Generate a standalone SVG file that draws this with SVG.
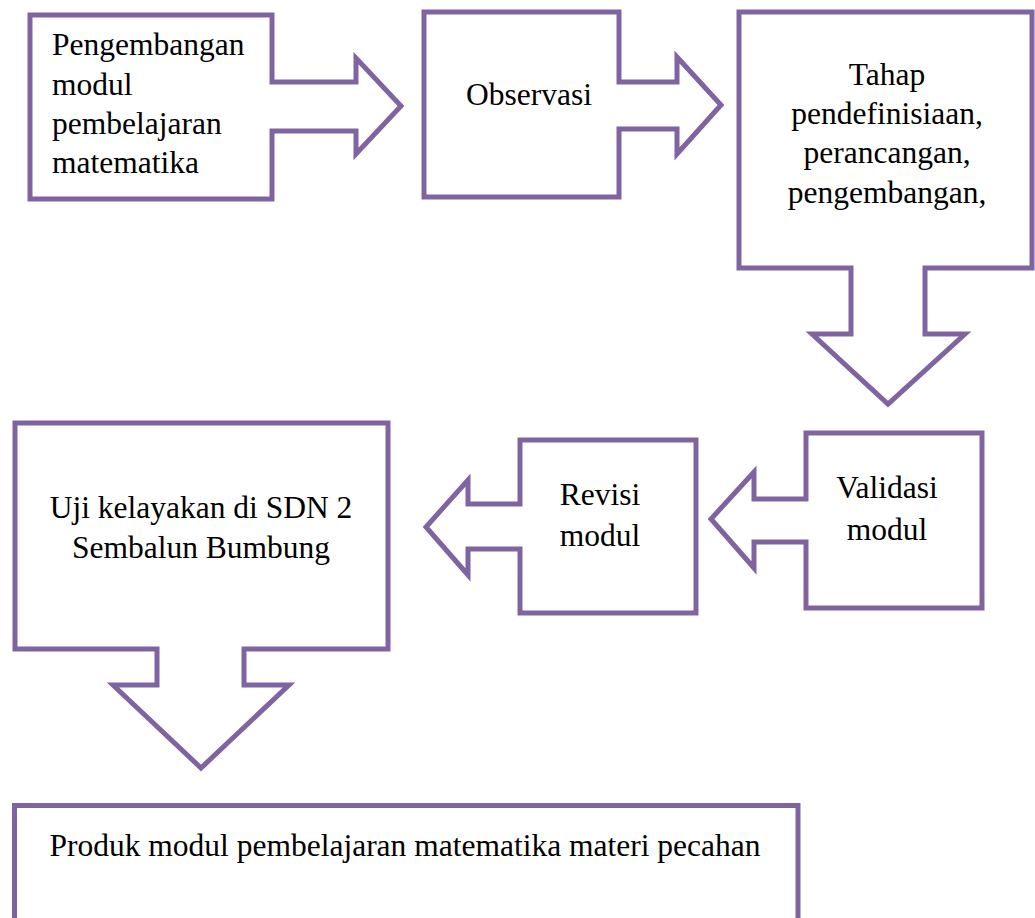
<svg xmlns="http://www.w3.org/2000/svg" width="1035" height="918" viewBox="0 0 1035 918">
<style>
.s{fill:#ffffff;stroke:#8064A2;stroke-width:5;stroke-linejoin:miter;stroke-miterlimit:10}
.t{font-family:'Liberation Serif','DejaVu Serif',serif;font-size:31.5px;fill:#000000}
.m{text-anchor:middle}
</style>
<rect width="1035" height="918" fill="#ffffff"/>
<g id="connectors"></g>
<g id="n1">
<path class="s" d="M30,15 H272 V82 H356 V58 L401,106 L356,154 V131 H272 V199 H30 Z"/>
<text class="t" font-family="Liberation Serif, serif" x="52" y="55">Pengembangan</text>
<text class="t" font-family="Liberation Serif, serif" x="52" y="95">modul</text>
<text class="t" font-family="Liberation Serif, serif" x="52" y="134">pembelajaran</text>
<text class="t" font-family="Liberation Serif, serif" x="52" y="173">matematika</text>
</g>
<g id="n2">
<path class="s" d="M424,12 H619 V82 H677 V57 L721,105 L677,154 V129 H619 V197 H424 Z"/>
<text class="t m" font-family="Liberation Serif, serif" x="529" y="105">Observasi</text>
</g>
<g id="n3">
<path class="s" d="M739,12 H1032 V268 H925 V334 H965 L888,404 L812,334 H851 V268 H739 Z"/>
<text class="t m" font-family="Liberation Serif, serif" x="887" y="85">Tahap</text>
<text class="t m" font-family="Liberation Serif, serif" x="887" y="124">pendefinisiaan,</text>
<text class="t m" font-family="Liberation Serif, serif" x="887" y="163">perancangan,</text>
<text class="t m" font-family="Liberation Serif, serif" x="887" y="203">pengembangan,</text>
</g>
<g id="n4">
<path class="s" d="M806,433 H982 V608 H806 V542 H754 V568 L711,519 L754,472 V499 H806 Z"/>
<text class="t m" font-family="Liberation Serif, serif" x="887" y="498">Validasi</text>
<text class="t m" font-family="Liberation Serif, serif" x="887" y="540">modul</text>
</g>
<g id="n5">
<path class="s" d="M520,440 H696 V613 H520 V549 H468 V575 L426,527 L468,480 V504 H520 Z"/>
<text class="t m" font-family="Liberation Serif, serif" x="600" y="505">Revisi</text>
<text class="t m" font-family="Liberation Serif, serif" x="600" y="546">modul</text>
</g>
<g id="n6">
<path class="s" d="M15,423 H388 V649 H244 V685 H289 L201,768 L113,685 H157 V649 H15 Z"/>
<text class="t m" font-family="Liberation Serif, serif" x="201" y="518">Uji kelayakan di SDN 2</text>
<text class="t m" font-family="Liberation Serif, serif" x="201" y="558">Sembalun Bumbung</text>
</g>
<g id="n7">
<path class="s" d="M14.5,930 V805.5 H798 V930"/>
<text class="t m" font-family="Liberation Serif, serif" x="405" y="856">Produk modul pembelajaran matematika materi pecahan</text>
</g>
</svg>
